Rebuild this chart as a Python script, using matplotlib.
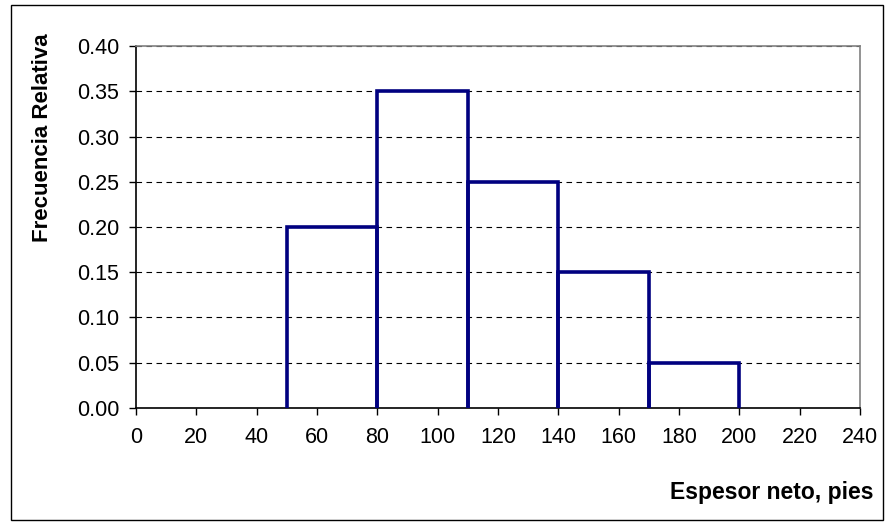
import matplotlib
matplotlib.use("Agg")
from matplotlib import pyplot as plt
from matplotlib.patches import Rectangle

# histogram bins (espesor neto, pies) and relative frequencies
bin_edges = [50, 80, 110, 140, 170, 200]
rel_freq = [0.20, 0.35, 0.25, 0.15, 0.05]
x_ticks = list(range(0, 241, 20))
y_ticks = [0.00, 0.05, 0.10, 0.15, 0.20, 0.25, 0.30, 0.35, 0.40]

plt.rcParams['font.family'] = ['Liberation Sans', 'DejaVu Sans']

fig = plt.figure(figsize=(8.9, 5.24), dpi=100)
fig.patches.append(Rectangle((0.012, 0.008), 0.98, 0.982, transform=fig.transFigure,
                             fill=False, edgecolor='black', linewidth=1.0))
ax = fig.add_axes([0.1528, 0.2214, 0.8135, 0.6908])

for i in range(len(rel_freq)):
    l, r = bin_edges[i], bin_edges[i + 1]
    ax.plot([l, l, r, r], [0, rel_freq[i], rel_freq[i], 0], color='#000080',
            linewidth=2.6, solid_joinstyle='miter', zorder=3)

ax.set_xlim(0, 240)
ax.set_ylim(0, 0.40)
ax.set_xticks(x_ticks)
ax.set_yticks(y_ticks)
ax.set_yticklabels([f"{v:.2f}" for v in y_ticks])
ax.grid(axis='y', color='black', linestyle=(0, (5, 4)), linewidth=0.8)
ax.set_axisbelow(True)
ax.tick_params(direction='out', length=5, width=1, labelsize=15.5, color='black', pad=7)
ax.tick_params(axis='x', pad=9)
ax.spines['left'].set_color('black')
ax.spines['bottom'].set_color('black')
ax.spines['top'].set_color('#808080')
ax.spines['right'].set_color('#808080')
for s in ax.spines.values():
    s.set_linewidth(1.2)

fig.text(0.048, 0.738, 'Frecuencia Relativa', rotation=90, ha='center', va='center',
         fontsize=16, fontweight='bold')
fig.text(0.982, 0.061, 'Espesor neto, pies', ha='right', va='center',
         fontsize=16.5, fontweight='bold')

fig.savefig('out.png', dpi=100)
